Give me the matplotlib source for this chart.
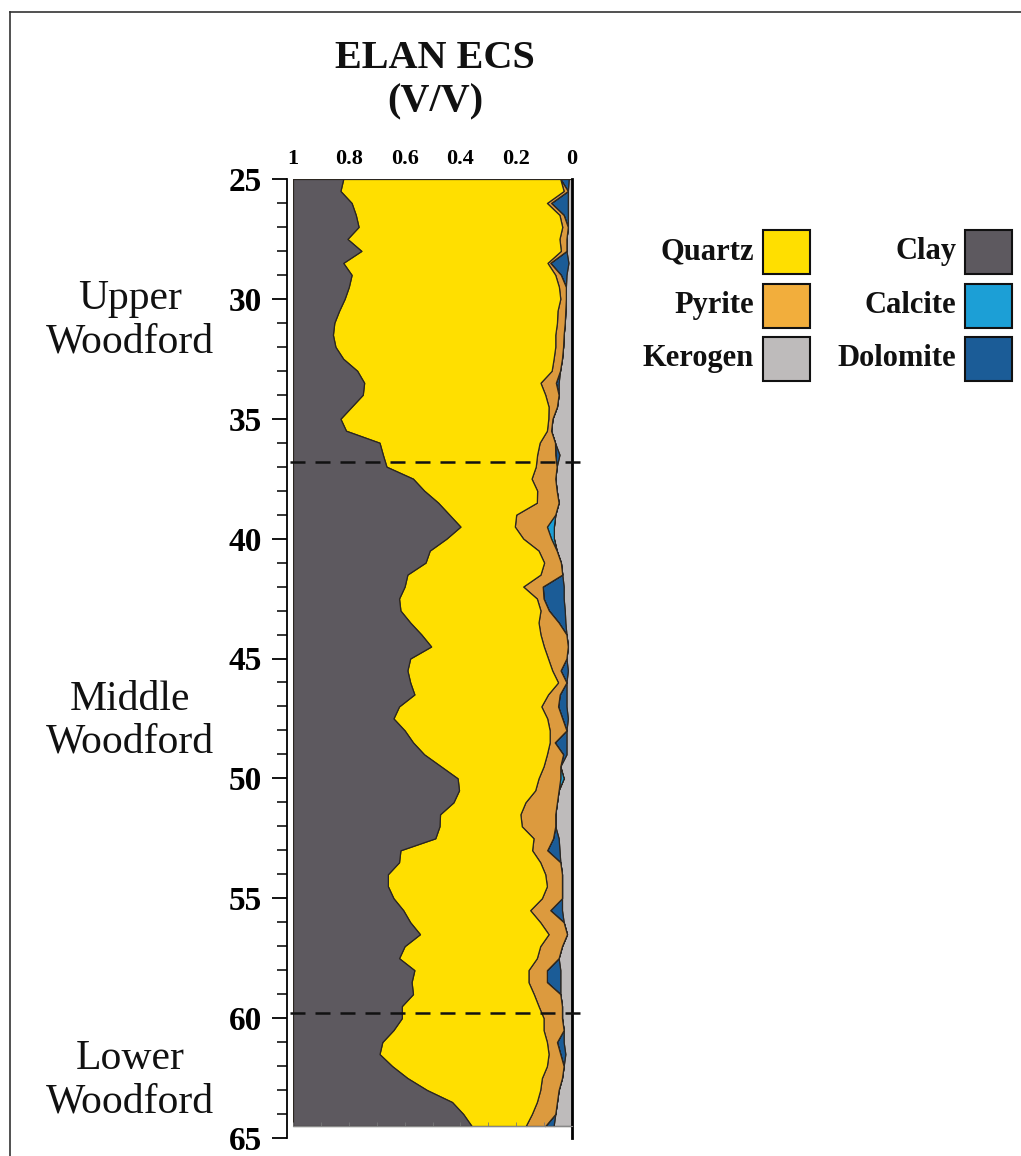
import numpy as np
import matplotlib.pyplot as plt
from matplotlib.patches import Rectangle
from matplotlib.lines import Line2D
from matplotlib.ticker import MultipleLocator

plt.rcParams['font.family'] = ['Liberation Serif', 'DejaVu Serif']
plt.rcParams['font.weight'] = 'bold'

depth = np.arange(25, 64.6, 0.5)

kerogen = [0.012, 0.015, 0.015, 0.015, 0.015, 0.020, 0.020, 0.013, 0.020, 0.022,
           0.022, 0.024, 0.026, 0.030, 0.032, 0.036, 0.043, 0.048, 0.048, 0.054,
           0.070, 0.075, 0.061, 0.045, 0.055, 0.060, 0.055, 0.048, 0.060, 0.065,
           0.065, 0.055, 0.040, 0.035, 0.030, 0.030, 0.026, 0.024, 0.020, 0.015,
           0.020, 0.015, 0.020, 0.020, 0.020, 0.015, 0.020, 0.020, 0.020, 0.042,
           0.030, 0.048, 0.054, 0.060, 0.060, 0.048, 0.045, 0.042, 0.036, 0.036,
           0.036, 0.036, 0.030, 0.018, 0.036, 0.048, 0.042, 0.042, 0.042, 0.036,
           0.036, 0.030, 0.030, 0.024, 0.030, 0.036, 0.048, 0.054, 0.060, 0.066]

dolomite = [0.030, 0.000, 0.060, 0.015, 0.000, 0.000, 0.000, 0.065, 0.020, 0.000,
            0.000, 0.000, 0.000, 0.000, 0.000, 0.000, 0.000, 0.010, 0.000, 0.000,
            0.000, 0.000, 0.000, 0.015, 0.000, 0.000, 0.000, 0.000, 0.000, 0.000,
            0.000, 0.000, 0.000, 0.000, 0.075, 0.072, 0.057, 0.024, 0.000, 0.000,
            0.000, 0.026, 0.000, 0.024, 0.030, 0.020, 0.000, 0.042, 0.012, 0.000,
            0.000, 0.000, 0.000, 0.000, 0.000, 0.020, 0.044, 0.000, 0.000, 0.000,
            0.000, 0.042, 0.000, 0.000, 0.000, 0.000, 0.048, 0.048, 0.000, 0.000,
            0.000, 0.000, 0.024, 0.018, 0.000, 0.000, 0.000, 0.000, 0.000, 0.030]

calcite = [0.0] * 29 + [0.025, 0.010] + [0.0] * 19 + [0.012] + [0.0] * 29

pyrite = [0.000, 0.015, 0.015, 0.015, 0.020, 0.025, 0.020, 0.010, 0.020, 0.025,
          0.020, 0.028, 0.028, 0.030, 0.028, 0.030, 0.030, 0.055, 0.048, 0.030,
          0.015, 0.015, 0.055, 0.065, 0.075, 0.085, 0.070, 0.078, 0.140, 0.115,
          0.100, 0.065, 0.060, 0.078, 0.070, 0.024, 0.030, 0.072, 0.093, 0.086,
          0.066, 0.030, 0.030, 0.042, 0.060, 0.054, 0.060, 0.018, 0.058, 0.060,
          0.078, 0.084, 0.113, 0.125, 0.120, 0.070, 0.054, 0.072, 0.060, 0.054,
          0.072, 0.072, 0.084, 0.066, 0.078, 0.078, 0.066, 0.066, 0.095, 0.084,
          0.066, 0.072, 0.036, 0.042, 0.060, 0.072, 0.066, 0.072, 0.084, 0.070]

quartz = [0.778, 0.800, 0.700, 0.730, 0.730, 0.760, 0.715, 0.732, 0.730, 0.753,
          0.773, 0.783, 0.798, 0.797, 0.788, 0.754, 0.697, 0.632, 0.654, 0.706,
          0.745, 0.720, 0.574, 0.553, 0.535, 0.425, 0.405, 0.354, 0.240, 0.195,
          0.275, 0.390, 0.425, 0.477, 0.425, 0.494, 0.502, 0.460, 0.427, 0.404,
          0.494, 0.519, 0.530, 0.479, 0.510, 0.551, 0.520, 0.490, 0.440, 0.368,
          0.290, 0.273, 0.258, 0.288, 0.295, 0.352, 0.472, 0.506, 0.564, 0.570,
          0.532, 0.455, 0.466, 0.461, 0.486, 0.494, 0.409, 0.419, 0.433, 0.490,
          0.508, 0.538, 0.590, 0.606, 0.555, 0.482, 0.406, 0.304, 0.246, 0.194]

clay = [0.180, 0.170, 0.210, 0.225, 0.235, 0.195, 0.245, 0.180, 0.210, 0.200,
        0.185, 0.165, 0.148, 0.143, 0.152, 0.180, 0.230, 0.255, 0.250, 0.210,
        0.170, 0.190, 0.310, 0.322, 0.335, 0.430, 0.470, 0.520, 0.560, 0.600,
        0.550, 0.490, 0.475, 0.410, 0.400, 0.380, 0.385, 0.420, 0.460, 0.495,
        0.420, 0.410, 0.420, 0.435, 0.380, 0.360, 0.400, 0.430, 0.470, 0.530,
        0.590, 0.595, 0.575, 0.527, 0.525, 0.510, 0.385, 0.380, 0.340, 0.340,
        0.360, 0.395, 0.420, 0.455, 0.400, 0.380, 0.435, 0.425, 0.430, 0.390,
        0.390, 0.360, 0.320, 0.310, 0.355, 0.410, 0.480, 0.570, 0.610, 0.640]

volume_ticks = [1, 0.8, 0.6, 0.4, 0.2, 0]
volume_labels = ["1", "0.8", "0.6", "0.4", "0.2", "0"]
depth_ticks = [25, 30, 35, 40, 45, 50, 55, 60, 65]

zone_names = ["Upper\nWoodford", "Middle\nWoodford", "Lower\nWoodford"]
zone_label_depth = [30.9, 47.6, 62.6]
zone_tops = [36.8, 59.8]

colors = {
    "Quartz": "#FFDF00",
    "Pyrite": "#DC9A3E",
    "Kerogen": "#BEBBBB",
    "Clay": "#5D595F",
    "Calcite": "#1C9FD6",
    "Dolomite": "#1B5C97",
}
legend_colors = dict(colors, Pyrite="#F2AE3C")

W, H = 1021, 1156
fig = plt.figure(figsize=(W / 100, H / 100), dpi=100)
ax = fig.add_axes([293 / W, 1 - 1138 / H, 279 / W, (1138 - 179) / H])

# stack from 0 toward 1 (x axis is reversed)
layers = [("Kerogen", kerogen), ("Dolomite", dolomite), ("Calcite", calcite),
          ("Pyrite", pyrite), ("Quartz", quartz), ("Clay", clay)]
cum = np.zeros(len(depth))
for name, vals in layers:
    vals = np.asarray(vals)
    ax.fill_betweenx(depth, cum, cum + vals, facecolor=colors[name],
                     edgecolor="#2b2620", linewidth=0.9)
    cum = cum + vals

for d in zone_tops:
    ax.axhline(d, xmin=-0.01, xmax=1.047, color="#111111", lw=1.8,
               dashes=(6, 4), clip_on=False, zorder=5)

ax.set_xlim(1, 0)
ax.set_ylim(65, 25)

ax.xaxis.set_minor_locator(MultipleLocator(0.1))
ax.xaxis.remove_overlapping_locs = False
ax.tick_params(axis="x", which="major", top=True, labeltop=True, bottom=False,
               labelbottom=False, length=0, pad=7, labelsize=16)
ax.tick_params(axis="x", which="minor", top=False, bottom=True, direction="in",
               length=3, color="#777777")
ax.set_xticks(volume_ticks)
ax.set_xticklabels(volume_labels)

ax.yaxis.set_minor_locator(MultipleLocator(1))
ax.tick_params(axis="y", which="major", length=11, width=1.3, pad=7, labelsize=24)
ax.tick_params(axis="y", which="minor", length=7, width=1.1)
ax.set_yticks(depth_ticks)
ax.set_yticklabels([str(d) for d in depth_ticks])

ax.spines["top"].set_visible(False)
ax.spines["left"].set_position(("outward", 4.5))
ax.spines["left"].set_linewidth(1.3)
ax.spines["right"].set_linewidth(2.0)
ax.spines["bottom"].set_position(("data", depth[-1]))
ax.spines["bottom"].set_color("#888888")
ax.spines["bottom"].set_linewidth(0.8)

# formation names (regular weight)
for name, d in zip(zone_names, zone_label_depth):
    y = ax.transData.transform((1, d))[1]
    fig.text(130 / W, y / H, name, ha="center", va="center", fontsize=30,
             fontweight="normal", linespacing=1.15, color="#111111")

fig.text(435 / W, 1 - 80 / H, "ELAN ECS\n(V/V)", ha="center", va="center",
         fontsize=29, fontweight="bold", linespacing=1.25, color="#111111")

# legend
legend_cols = [["Quartz", "Pyrite", "Kerogen"], ["Clay", "Calcite", "Dolomite"]]
col_box_x = [763, 965]
row_y = [252, 306, 359]
for names, bx in zip(legend_cols, col_box_x):
    for name, cy in zip(names, row_y):
        fig.patches.append(Rectangle((bx / W, 1 - (cy + 22) / H), 47 / W, 44 / H,
                                     transform=fig.transFigure,
                                     facecolor=legend_colors[name],
                                     edgecolor="#111111", linewidth=1.5))
        fig.text((bx - 9) / W, 1 - cy / H, name, ha="right", va="center",
                 fontsize=22, fontweight="bold", color="#111111")

# page frame
fig.add_artist(Line2D([10 / W, 1], [1 - 12 / H, 1 - 12 / H], color="#333333", lw=1.2))
fig.add_artist(Line2D([10 / W, 10 / W], [0, 1 - 12 / H], color="#333333", lw=1.2))

fig.savefig("out.png", dpi=100, facecolor="white")
